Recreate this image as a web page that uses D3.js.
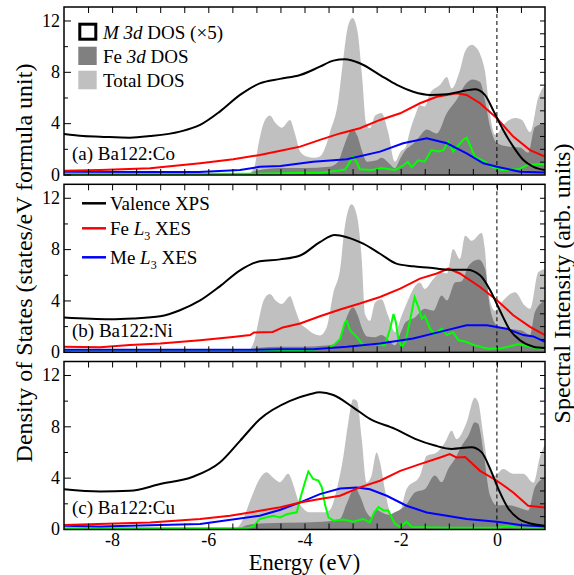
<!DOCTYPE html>
<html><head><meta charset="utf-8">
<script src="https://cdn.jsdelivr.net/npm/d3@7"></script>
<style>
body{margin:0;background:#fff}
svg{display:block}
text{font-family:"Liberation Serif","Times New Roman",serif;fill:#000}
</style>
</head><body>
<svg id="c" width="574" height="575"></svg>
<script>
// ---------- DATA (energy eV, value) ----------
const panelNames = ["(a) Ba122:Co", "(b) Ba122:Ni", "(c) Ba122:Cu"];
const xTickLabels = [-8, -6, -4, -2, 0];
const yTickLabels = [0, 4, 8, 12];

// (a) Co
const coTotal = [[-9,0],[-5.2,0],[-5.05,0.5],[-4.95,2.5],[-4.85,4.0],[-4.72,4.6],[-4.6,4.0],[-4.47,3.65],[-4.3,4.25],[-4.2,3.2],[-4.09,1.8],[-3.95,1.4],[-3.8,1.3],[-3.68,1.4],[-3.55,2.3],[-3.47,3.3],[-3.3,5.7],[-3.2,8.8],[-3.1,11.5],[-3.0,12.2],[-2.9,11.2],[-2.8,7.5],[-2.72,4.0],[-2.64,3.6],[-2.53,4.6],[-2.4,4.8],[-2.26,3.3],[-2.12,1.0],[-2.0,1.8],[-1.9,2.1],[-1.8,3.5],[-1.7,4.6],[-1.6,5.4],[-1.5,5.3],[-1.39,6.35],[-1.18,7.0],[-1.04,7.6],[-0.94,6.7],[-0.77,8.1],[-0.66,9.6],[-0.52,10.1],[-0.46,10.0],[-0.32,9.1],[-0.25,8.1],[-0.14,4.6],[-0.04,3.1],[0.17,4.0],[0.38,4.4],[0.52,4.25],[0.69,3.3],[0.86,6.0],[1.0,7.0]];
const coFe = [[-9,0],[-5.2,0],[-5.0,0.3],[-4.5,0.5],[-4.0,0.5],[-3.5,0.6],[-3.3,1.0],[-3.2,2.0],[-3.1,3.0],[-3.0,3.55],[-2.9,3.0],[-2.8,1.8],[-2.7,1.0],[-2.5,1.1],[-2.4,1.3],[-2.25,0.9],[-2.12,0.5],[-2.0,1.3],[-1.9,1.9],[-1.74,2.4],[-1.6,3.0],[-1.46,3.5],[-1.25,3.2],[-1.04,4.8],[-0.84,5.8],[-0.66,7.0],[-0.5,7.4],[-0.35,7.2],[-0.25,5.8],[-0.14,3.7],[0,2.45],[0.2,2.2],[0.48,2.1],[0.65,1.7],[0.79,3.7],[1.0,4.0]];
const coM = [[-9,0.05],[-5.2,0.05],[-4.5,0.1],[-3.6,0.15],[-3.3,0.3],[-3.15,0.4],[-3.05,1.0],[-3.0,1.35],[-2.92,1.0],[-2.85,0.4],[-2.6,0.35],[-2.4,0.5],[-2.12,0.35],[-1.95,0.7],[-1.85,1.0],[-1.77,0.55],[-1.64,1.1],[-1.5,1.0],[-1.36,1.9],[-1.22,1.8],[-1.11,1.9],[-1.01,2.55],[-0.91,1.8],[-0.84,2.1],[-0.7,2.7],[-0.63,2.87],[-0.56,2.3],[-0.46,1.4],[-0.25,1.0],[-0.11,0.6],[0.1,0.35],[0.44,0.4],[0.65,0.75],[0.93,0.8],[1.0,0.8]];
const coXPS = [[-9,3.15],[-8.6,3.0],[-8.25,2.95],[-7.63,2.87],[-7.21,2.99],[-6.59,3.34],[-6.17,3.86],[-5.76,4.9],[-5.34,6.2],[-4.93,7.1],[-4.51,7.45],[-4.09,7.75],[-3.68,8.4],[-3.4,8.87],[-3.16,8.98],[-2.85,8.67],[-2.43,7.75],[-2.08,6.98],[-1.74,6.45],[-1.39,6.2],[-1.04,6.25],[-0.77,6.45],[-0.46,6.64],[-0.25,6.2],[-0.08,5.03],[0.13,3.47],[0.34,2.17],[0.55,1.13],[0.76,0.6],[1.0,0.35]];
const coFeXES = [[-9,0.3],[-8.25,0.35],[-7.21,0.48],[-6.17,0.87],[-5.48,1.18],[-4.93,1.52],[-4.5,1.85],[-4.09,2.17],[-3.68,2.7],[-3.26,3.2],[-2.85,3.6],[-2.43,4.25],[-2.01,4.77],[-1.6,5.55],[-1.25,6.06],[-0.84,6.33],[-0.63,6.2],[-0.35,5.55],[0,4.38],[0.34,2.95],[0.69,1.9],[1.0,1.39]];
const coMeXES = [[-9,0.22],[-7.2,0.2],[-6.2,0.2],[-5.34,0.35],[-4.93,0.6],[-4.5,0.67],[-3.82,1.0],[-3.12,1.18],[-2.43,1.78],[-1.95,2.43],[-1.46,2.82],[-1.04,2.43],[-0.63,1.65],[-0.28,0.87],[0,0.6],[0.48,0.22],[1.0,0.15]];

// (b) Ni
const niTotal = [[-9,0],[-5.2,0],[-5.05,0.8],[-4.95,2.5],[-4.85,4.0],[-4.72,4.5],[-4.6,4.0],[-4.47,3.73],[-4.3,4.33],[-4.2,3.4],[-4.09,2.3],[-3.95,1.8],[-3.8,1.4],[-3.68,1.27],[-3.54,1.9],[-3.4,4.6],[-3.26,6.45],[-3.16,9.8],[-3.02,11.5],[-2.91,10.6],[-2.81,7.2],[-2.74,2.9],[-2.64,2.4],[-2.53,3.86],[-2.4,4.1],[-2.26,2.8],[-2.12,1.53],[-1.98,2.83],[-1.84,4.1],[-1.74,4.9],[-1.6,5.4],[-1.5,4.9],[-1.32,5.67],[-1.15,6.2],[-1.04,6.1],[-0.91,8.0],[-0.77,7.23],[-0.66,9.05],[-0.52,8.65],[-0.32,9.25],[-0.25,8.0],[-0.18,4.64],[-0.04,3.2],[0.13,4.0],[0.38,4.64],[0.58,3.6],[0.69,3.35],[0.86,6.2],[1.0,6.45]];
const niFe = [[-9,0],[-5.2,0],[-5.0,0.3],[-4.5,0.4],[-4.0,0.4],[-3.5,0.5],[-3.3,0.8],[-3.2,1.8],[-3.1,2.9],[-2.99,3.47],[-2.9,2.9],[-2.8,1.8],[-2.7,1.2],[-2.53,1.14],[-2.4,1.3],[-2.25,0.9],[-2.12,0.5],[-2.0,1.5],[-1.9,2.3],[-1.7,2.7],[-1.5,3.35],[-1.32,3.2],[-1.15,4.38],[-1.04,4.0],[-0.87,5.4],[-0.73,5.5],[-0.59,6.7],[-0.38,7.2],[-0.25,6.5],[-0.14,3.35],[0,2.05],[0.24,1.8],[0.52,1.65],[0.69,1.3],[0.79,3.1],[1.0,4.0]];
const niM = [[-9,0.05],[-5.2,0.05],[-4.0,0.1],[-3.5,0.3],[-3.4,0.5],[-3.26,1.0],[-3.16,2.3],[-3.12,2.4],[-3.05,1.66],[-2.91,1.14],[-2.78,0.5],[-2.57,0.6],[-2.33,0.5],[-2.22,1.8],[-2.15,2.95],[-2.1,2.3],[-2.05,1.0],[-1.98,0.37],[-1.9,0.8],[-1.8,2.57],[-1.71,4.25],[-1.62,3.35],[-1.56,2.57],[-1.5,2.8],[-1.39,1.8],[-1.29,1.4],[-1.15,1.8],[-1.04,1.3],[-0.91,1.53],[-0.8,0.9],[-0.66,0.8],[-0.46,0.5],[-0.18,0.23],[0.1,0.27],[0.45,0.6],[0.72,0.35],[1.0,0.2]];
const niXPS = [[-9,2.67],[-8.04,2.54],[-7.56,2.6],[-7.0,2.77],[-6.59,3.24],[-6.17,4.0],[-5.76,5.1],[-5.34,6.35],[-4.93,7.05],[-4.51,7.2],[-4.09,7.5],[-3.68,8.55],[-3.37,9.1],[-3.12,8.93],[-2.78,8.42],[-2.43,7.64],[-2.09,6.87],[-1.74,6.66],[-1.39,6.55],[-1.04,6.4],[-0.63,6.4],[-0.35,5.96],[-0.14,4.8],[0.06,3.24],[0.27,1.7],[0.48,0.9],[0.76,0.4],[1.0,0.3]];
const niFeXES = [[-9,0.39],[-8.25,0.35],[-7.63,0.52],[-7.0,0.65],[-6.17,0.9],[-5.49,1.15],[-5.13,1.3],[-5.05,1.5],[-4.66,1.55],[-4.45,1.9],[-4.09,2.2],[-3.68,2.77],[-3.26,3.3],[-2.85,3.76],[-2.43,4.27],[-2.01,4.92],[-1.6,5.7],[-1.25,6.1],[-1.01,6.48],[-0.77,6.1],[-0.35,5.05],[0,4.02],[0.34,2.85],[0.69,1.94],[1.0,1.3]];
const niMeXES = [[-9,0.15],[-5,0.15],[-4.5,0.19],[-3.82,0.19],[-3.12,0.39],[-2.43,0.65],[-1.74,1.04],[-1.04,1.69],[-0.63,2.07],[-0.21,2.07],[0.2,1.8],[0.55,1.3],[0.76,1.2],[1.0,0.78]];

// (c) Cu
const cuTotal = [[-9,0],[-5.45,0],[-5.3,0.6],[-5.1,2.5],[-4.95,3.8],[-4.79,4.43],[-4.65,4.0],[-4.51,3.65],[-4.34,4.3],[-4.22,3.3],[-4.13,2.2],[-4.02,1.58],[-3.9,1.3],[-3.6,1.3],[-3.47,1.5],[-3.33,3.1],[-3.19,5.7],[-3.09,8.3],[-2.99,10.1],[-2.91,10.0],[-2.81,7.0],[-2.71,3.6],[-2.61,4.1],[-2.5,5.96],[-2.43,5.2],[-2.33,3.1],[-2.22,1.3],[-2.08,0.78],[-2.01,1.3],[-1.88,3.1],[-1.6,4.15],[-1.46,5.7],[-1.25,5.96],[-1.08,6.73],[-0.94,7.65],[-0.84,7.0],[-0.63,8.3],[-0.46,10.23],[-0.39,9.9],[-0.28,7.25],[-0.18,4.92],[-0.04,4.15],[0.13,4.67],[0.34,4.3],[0.55,4.3],[0.76,3.6],[0.9,5.7],[1.0,6.6]];
const cuFe = [[-9,0],[-5.4,0],[-5.2,0.3],[-4.8,0.45],[-4.0,0.5],[-3.5,0.6],[-3.26,0.8],[-3.12,2.0],[-2.95,3.24],[-2.85,2.6],[-2.71,1.3],[-2.6,0.9],[-2.5,1.5],[-2.4,1.3],[-2.25,1.1],[-2.12,1.3],[-1.9,1.84],[-1.7,2.87],[-1.5,3.1],[-1.29,4.17],[-1.15,3.65],[-1.01,4.7],[-0.87,5.47],[-0.73,6.5],[-0.59,7.28],[-0.46,8.32],[-0.39,8.2],[-0.28,6.0],[-0.14,2.6],[0,1.84],[0.24,1.84],[0.52,1.58],[0.65,1.45],[0.79,3.25],[1.0,4.04]];
const cuM = [[-9,0.05],[-5.2,0.05],[-5.06,0.2],[-4.93,0.78],[-4.65,1.03],[-4.51,0.9],[-4.37,1.15],[-4.16,1.3],[-4.09,2.36],[-3.99,3.65],[-3.92,4.48],[-3.82,3.9],[-3.71,3.77],[-3.64,3.25],[-3.57,1.84],[-3.5,0.9],[-3.4,0.65],[-3.19,0.73],[-2.99,0.57],[-2.78,0.78],[-2.64,0.52],[-2.55,1.3],[-2.46,1.7],[-2.36,1.45],[-2.26,1.45],[-2.12,0.41],[-2.01,0.15],[-1.88,0.57],[-1.77,0.15],[-1.0,0.1],[0,0.1],[0.2,0.22],[0.4,0.12],[1.0,0.1]];
const cuXPS = [[-9,3.1],[-8.25,2.93],[-7.63,2.98],[-7.0,3.5],[-6.32,4.07],[-5.76,5.18],[-5.34,6.87],[-4.93,8.55],[-4.3,9.98],[-3.89,10.5],[-3.68,10.65],[-3.4,10.44],[-2.99,9.48],[-2.64,8.58],[-2.12,7.8],[-1.7,7.02],[-1.29,6.5],[-0.94,6.24],[-0.53,6.37],[-0.32,5.99],[-0.14,4.69],[0.03,3.13],[0.24,1.58],[0.45,0.8],[0.72,0.41],[1.0,0.25]];
const cuFeXES = [[-9,0.31],[-7.21,0.51],[-6.17,0.78],[-5.55,1.03],[-4.93,1.42],[-4.5,1.7],[-4.09,2.07],[-3.68,2.33],[-3.26,2.59],[-2.85,3.24],[-2.43,3.76],[-2.01,4.53],[-1.6,5.05],[-1.18,5.57],[-0.98,5.83],[-0.84,5.57],[-0.66,5.6],[-0.35,4.53],[0,3.76],[0.34,2.85],[0.65,1.81],[1.0,1.68]];
const cuMeXES = [[-9,0.26],[-8.25,0.2],[-6.17,0.39],[-4.93,1.03],[-4.5,1.5],[-4.09,2.07],[-3.68,2.72],[-3.26,3.15],[-2.91,3.24],[-2.64,3.1],[-2.29,2.59],[-1.88,1.81],[-1.46,1.29],[-1.04,1.03],[-0.63,0.78],[0,0.57],[0.48,0.31],[1.0,0.2]];

// ---------- build ----------
const panels = [
  {name: panelNames[0], total: coTotal, fe: coFe, m: coM, xps: coXPS, feXes: coFeXES, meXes: coMeXES},
  {name: panelNames[1], total: niTotal, fe: niFe, m: niM, xps: niXPS, feXes: niFeXES, meXes: niMeXES},
  {name: panelNames[2], total: cuTotal, fe: cuFe, m: cuM, xps: cuXPS, feXes: cuFeXES, meXes: cuMeXES}
];

const svg = d3.select('#c');
const L = 64, R = 545;
const x = d3.scaleLinear().domain([-9, 1]).range([L, R]);
const tops = [7, 184.3, 361.5], H = 168;
const COL = {light: '#c0c0c0', dark: '#808080', green: '#00ff00', red: '#ff0000', blue: '#0000ff'};
const FONT = '"Liberation Serif","Times New Roman",serif';

panels.forEach((p, i) => {
  const top = tops[i], bot = top + H;
  const y = d3.scaleLinear().domain([-0.04, 13.05]).range([bot, top]);
  const g = svg.append('g');
  const cid = 'clip' + i;
  svg.append('clipPath').attr('id', cid).append('rect').attr('x', L).attr('y', top).attr('width', R - L).attr('height', H);
  const pg = g.append('g').attr('clip-path', `url(#${cid})`);

  const area = d3.area().x(d => x(d[0])).y0(y(0)).y1(d => y(d[1])).curve(d3.curveMonotoneX);
  const line = d3.line().x(d => x(d[0])).y(d => y(d[1])).curve(d3.curveMonotoneX);
  const lineLin = d3.line().x(d => x(d[0])).y(d => y(d[1]));

  pg.append('path').attr('d', area(p.total)).attr('fill', COL.light);
  pg.append('path').attr('d', area(p.fe)).attr('fill', COL.dark);
  pg.append('line').attr('x1', x(0)).attr('x2', x(0)).attr('y1', top).attr('y2', bot)
    .attr('stroke', '#000').attr('stroke-width', 1).attr('stroke-dasharray', '4,3');
  pg.append('path').attr('d', lineLin(p.m)).attr('fill', 'none').attr('stroke', COL.green).attr('stroke-width', 2);
  pg.append('path').attr('d', lineLin(p.meXes)).attr('fill', 'none').attr('stroke', COL.blue).attr('stroke-width', 2);
  pg.append('path').attr('d', lineLin(p.feXes)).attr('fill', 'none').attr('stroke', COL.red).attr('stroke-width', 2);
  pg.append('path').attr('d', line(p.xps)).attr('fill', 'none').attr('stroke', '#000').attr('stroke-width', 2);

  // axes
  const yl = d3.axisLeft(y).tickValues(yTickLabels).tickSize(-7).tickPadding(4).tickFormat(d3.format('d'));
  const ylm = d3.axisLeft(y).tickValues([2, 6, 10]).tickSize(-4).tickFormat('');
  const yr = d3.axisRight(y).tickValues(d3.range(1, 13)).tickSize(-5).tickFormat('');
  const xt = d3.axisTop(x).tickValues(d3.range(-8.5, 1, 0.5)).tickSize(-6).tickFormat('');
  const xb = d3.axisBottom(x).tickValues(d3.range(-8.5, 1, 0.5)).tickSize(-6)
    .tickFormat(d => (i === 2 && xTickLabels.includes(d)) ? String(d) : '').tickPadding(4);

  const ax = (sel) => { sel.select('.domain').remove(); sel.selectAll('line').attr('stroke', '#000').attr('stroke-width', 1); sel.selectAll('text').attr('font-size', 18).attr('font-family', FONT); };
  g.append('g').attr('transform', `translate(${L},0)`).call(yl).call(ax);
  g.append('g').attr('transform', `translate(${L},0)`).call(ylm).call(ax);
  g.append('g').attr('transform', `translate(${R},0)`).call(yr).call(ax);
  g.append('g').attr('transform', `translate(0,${top})`).call(xt).call(ax);
  g.append('g').attr('transform', `translate(0,${bot})`).call(xb).call(ax);

  g.append('rect').attr('x', L).attr('y', top).attr('width', R - L).attr('height', H)
    .attr('fill', 'none').attr('stroke', '#000').attr('stroke-width', 1.5);

  g.append('text').attr('x', 72).attr('y', top + 152.5).attr('font-size', 19).text(p.name);
});

// legend 1 (panel a)
const lg1 = svg.append('g');
lg1.append('rect').attr('x', 79.8).attr('y', 24.2).attr('width', 16).attr('height', 15).attr('fill', '#fff').attr('stroke', '#000').attr('stroke-width', 3);
lg1.append('rect').attr('x', 78.3).attr('y', 46.7).attr('width', 18.4).attr('height', 18.3).attr('fill', COL.dark);
lg1.append('rect').attr('x', 78.3).attr('y', 70.7).attr('width', 18.4).attr('height', 18.6).attr('fill', COL.light);
const t1 = lg1.append('text').attr('x', 103).attr('y', 39).attr('font-size', 19);
t1.append('tspan').attr('font-style', 'italic').text('M 3d');
t1.append('tspan').text(' DOS (×5)');
const t2 = lg1.append('text').attr('x', 103).attr('y', 63).attr('font-size', 19);
t2.append('tspan').text('Fe ');
t2.append('tspan').attr('font-style', 'italic').text('3d');
t2.append('tspan').text(' DOS');
lg1.append('text').attr('x', 103).attr('y', 86.5).attr('font-size', 19).text('Total DOS');

// legend 2 (panel b)
const lg2 = svg.append('g');
const leg2 = [
  {y: 203.3, c: '#000', parts: [['Valence XPS', null]]},
  {y: 228.3, c: COL.red, parts: [['Fe ', null], ['L', 'i'], ['3', 'sub'], [' XES', null]]},
  {y: 257.3, c: COL.blue, parts: [['Me ', null], ['L', 'i'], ['3', 'sub'], [' XES', null]]}
];
leg2.forEach(r => {
  lg2.append('line').attr('x1', 82).attr('x2', 106).attr('y1', r.y).attr('y2', r.y).attr('stroke', r.c).attr('stroke-width', 2.5);
  const t = lg2.append('text').attr('x', 110).attr('y', r.y + 7).attr('font-size', 19);
  r.parts.forEach(([s, st]) => {
    const ts = t.append('tspan').text(s);
    if (st === 'i') ts.attr('font-style', 'italic');
    if (st === 'sub') { ts.attr('font-size', 12).attr('dy', 5); }
    if (s === ' XES') ts.attr('dy', -5);
  });
});

// axis titles
svg.append('text').attr('x', 304.5).attr('y', 570).attr('text-anchor', 'middle').attr('font-size', 22.5).text('Energy (eV)');
svg.append('text').attr('transform', 'translate(32,263) rotate(-90)').attr('text-anchor', 'middle').attr('font-size', 24)
  .text('Density of States (states/eV formula unit)');
svg.append('text').attr('transform', 'translate(570,283.5) rotate(-90)').attr('text-anchor', 'middle').attr('font-size', 24)
  .text('Spectral Intensity (arb. units)');
</script>
</body></html>
